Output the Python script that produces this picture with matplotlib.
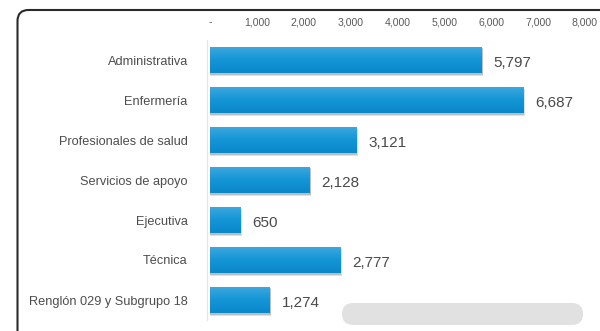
import numpy as np
import matplotlib
matplotlib.use("Agg")
import matplotlib.pyplot as plt
from matplotlib.patches import FancyBboxPatch
from matplotlib.colors import LinearSegmentedColormap

categories = ["Administrativa", "Enfermería", "Profesionales de salud",
              "Servicios de apoyo", "Ejecutiva", "Técnica",
              "Renglón 029 y Subgrupo 18"]
values = [5797, 6687, 3121, 2128, 650, 2777, 1274]
ticks = [0, 1000, 2000, 3000, 4000, 5000, 6000, 7000, 8000]
tick_labels = ["-", "1,000", "2,000", "3,000", "4,000", "5,000",
               "6,000", "7,000", "8,000"]

plt.rcParams["font.family"] = ["Liberation Sans", "DejaVu Sans"]

W, H = 600, 331
fig = plt.figure(figsize=(W / 100, H / 100), dpi=100)

# rounded outer frame (runs off the right and bottom edges)
frame_ax = fig.add_axes([0, 0, 1, 1])
frame_ax.set_xlim(0, W)
frame_ax.set_ylim(H, 0)
frame_ax.axis("off")
frame_ax.add_patch(FancyBboxPatch((17.5, 10), 700, 400,
                                  boxstyle="round,pad=0,rounding_size=11",
                                  fill=False, ec="#2a2a2a", lw=1.5))
# scroll bar
frame_ax.add_patch(FancyBboxPatch((342, 303), 241, 22,
                                  boxstyle="round,pad=0,rounding_size=11",
                                  fc="#e1e1e1", ec="none"))

left, right, top, bottom = 210, 585, 40, 320
ax = fig.add_axes([left / W, 1 - bottom / H, (right - left) / W, (bottom - top) / H])
ax.set_xlim(0, 8000)
ax.set_ylim(len(categories) - 0.5, -0.5)
ax.patch.set_alpha(0)

grad = LinearSegmentedColormap.from_list("barg", ["#40a8de", "#1496d6", "#0a88c9"])
gimg = np.linspace(0, 1, 64).reshape(-1, 1)
bh = 0.66
y = np.arange(len(categories))

# soft shadow under each bar
for dx, dy, a in [(35, 0.06, 0.18), (20, 0.035, 0.25)]:
    ax.barh(y + dy, np.array(values) + dx, height=bh, color="#555555",
            alpha=a, zorder=1, lw=0)
bars = ax.barh(y, values, height=bh, color="#1496d6", zorder=2, lw=0)
for b, yy, v in zip(bars, y, values):
    im = ax.imshow(gimg, cmap=grad, aspect="auto", zorder=3,
                   extent=[0, v, yy + bh / 2, yy - bh / 2])
    im.set_clip_path(b)
    ax.text(v + 250, yy + 0.08, f"{v:,}", va="center", ha="left",
            fontsize=11, color="#4a4a4a", zorder=4)

ax.set_yticks(y)
ax.set_yticklabels(categories)
ax.tick_params(axis="y", length=0, pad=14, labelsize=9.2, labelcolor="#4d4d4d")
ax.xaxis.tick_top()
ax.set_xticks(ticks)
ax.set_xticklabels(tick_labels)
ax.tick_params(axis="x", length=0, pad=9, labelsize=7.6, labelcolor="#5a5a5a")
for s in ["top", "right", "bottom"]:
    ax.spines[s].set_visible(False)
ax.spines["left"].set_color("#e6e6e6")
ax.spines["left"].set_position(("data", -60))
ax.spines["left"].set_linewidth(0.8)

fig.savefig("out.png", dpi=100)
